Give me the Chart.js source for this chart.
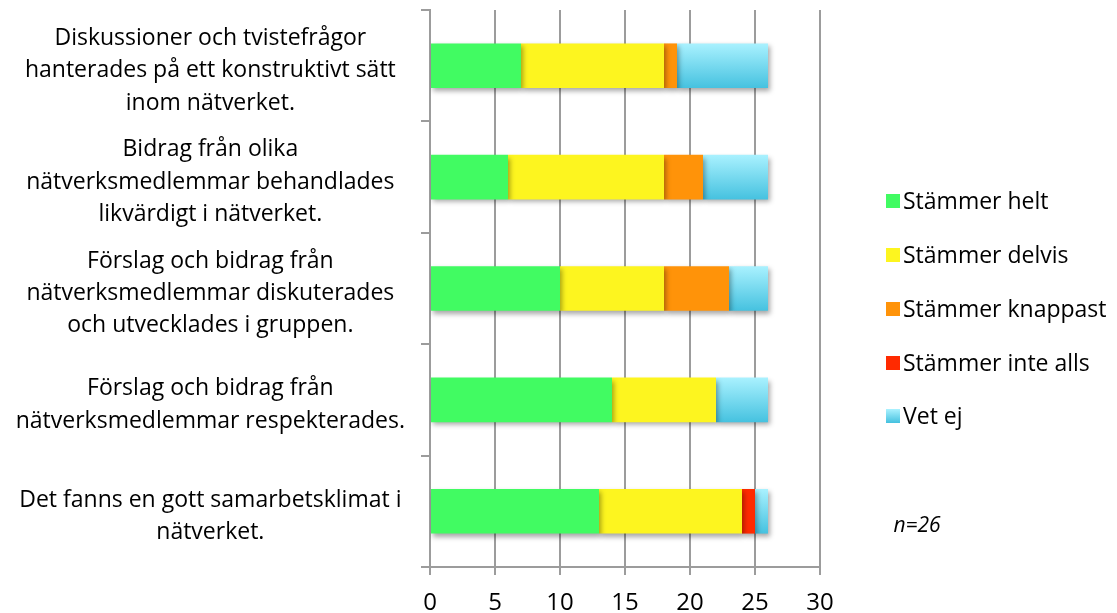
<!DOCTYPE html>
<html><head><meta charset="utf-8">
<script src="https://cdn.jsdelivr.net/npm/chart.js@4/dist/chart.umd.min.js"></script>
<style>html,body{margin:0;padding:0;background:#fff;}#wrap{width:1117px;height:613px;}</style>
</head><body><div id="wrap"><canvas id="c" width="1117" height="613"></canvas></div>
<script>
const categories = [
  ["Diskussioner och tvistefrågor","hanterades på ett konstruktivt sätt","inom nätverket."],
  ["Bidrag från olika","nätverksmedlemmar behandlades","likvärdigt i nätverket."],
  ["Förslag och bidrag från","nätverksmedlemmar diskuterades","och utvecklades i gruppen."],
  ["Förslag och bidrag från","nätverksmedlemmar respekterades."],
  ["Det fanns en gott samarbetsklimat i","nätverket."]
];
const seriesNames = ["Stämmer helt","Stämmer delvis","Stämmer knappast","Stämmer inte alls","Vet ej"];
const stammerHelt = [7,6,10,14,13];
const stammerDelvis = [11,12,8,8,11];
const stammerKnappast = [1,3,5,0,0];
const stammerInteAlls = [0,0,0,0,1];
const vetEj = [7,5,3,4,1];
const xTicks = [0,5,10,15,20,25,30];
const nText = "n=26";

const FONT = "'Open Sans', sans-serif";
const colors = ["#41FB62","#FDF51F","#FF9309","#FF2A00",null];

function blueGrad(ctx){
  const chart = ctx.chart;
  if(!chart.chartArea || ctx.type!=='data') return "#7ad8ee";
  const y = chart.scales.y;
  const c = y.getPixelForValue(ctx.dataIndex);
  const h = 23;
  const g = chart.ctx.createLinearGradient(0,c-h,0,c+h);
  g.addColorStop(0,"#ABF2FF");
  g.addColorStop(1,"#44C1DF");
  return g;
}

const shadowPlugin = {
  id:'shadow',
  beforeDatasetDraw(chart){
    const c = chart.ctx; c.save();
    c.shadowColor='rgba(0,0,0,0.35)'; c.shadowBlur=5; c.shadowOffsetX=2; c.shadowOffsetY=3;
  },
  afterDatasetDraw(chart){ chart.ctx.restore(); }
};

const legendPlugin = {
  id:'customLegend',
  afterDraw(chart){
    const c = chart.ctx;
    c.save();
    const ys=[201,255,309,363,416];
    chart.data.datasets.forEach((ds,i)=>{
      const y=ys[i];
      if(i===4){
        const g=c.createLinearGradient(0,y-7,0,y+7);
        g.addColorStop(0,"#ABF2FF");g.addColorStop(1,"#44C1DF");
        c.fillStyle=g;
      } else c.fillStyle=colors[i];
      c.fillRect(886,y-7,14,14);
      c.fillStyle="#000";
      c.font="23px "+FONT;
      c.textBaseline="middle";c.textAlign="left";
      c.fillText(ds.label,903,y+1);
    });
    c.font="italic 21px "+FONT;
    c.textAlign="center";
    c.fillText(nText,917,526);
    c.restore();
  }
};

const data = {
  labels: categories,
  datasets: [
    {label:seriesNames[0],data:stammerHelt,backgroundColor:colors[0]},
    {label:seriesNames[1],data:stammerDelvis,backgroundColor:colors[1]},
    {label:seriesNames[2],data:stammerKnappast,backgroundColor:colors[2]},
    {label:seriesNames[3],data:stammerInteAlls,backgroundColor:colors[3]},
    {label:seriesNames[4],data:vetEj,backgroundColor:blueGrad}
  ].map(d=>Object.assign(d,{barPercentage:0.4,categoryPercentage:1,borderWidth:0}))
};

new Chart(document.getElementById('c'),{
  type:'bar',
  data,
  plugins:[shadowPlugin,legendPlugin],
  options:{
    indexAxis:'y',
    responsive:false,
    animation:false,
    devicePixelRatio:1,
    layout:{padding:{top:10,right:297,left:0,bottom:0}},
    plugins:{legend:{display:false},tooltip:{enabled:false}},
    scales:{
      x:{
        stacked:true,min:0,max:30,
        afterBuildTicks(s){ s.ticks = xTicks.map(v=>({value:v})); },
        afterFit(s){ s.height=46; s.paddingLeft=0; s.paddingRight=0; },
        grid:{color:'#9c9c9c',lineWidth:2,tickLength:8,drawTicks:true},
        border:{color:'#9c9c9c',width:2},
        ticks:{color:'#000',font:{family:FONT,size:24},padding:14,maxRotation:0}
      },
      y:{
        stacked:true,
        afterFit(s){ s.width=430; s.paddingTop=0; s.paddingBottom=0; },
        grid:{drawOnChartArea:false,drawTicks:true,tickLength:9,color:'#9c9c9c',lineWidth:2,offset:true},
        border:{color:'#9c9c9c',width:2},
        ticks:{color:'#000',crossAlign:'center',padding:16,labelOffset:5,font:{family:FONT,size:23,lineHeight:1.41}}
      }
    }
  }
});
</script></body></html>
